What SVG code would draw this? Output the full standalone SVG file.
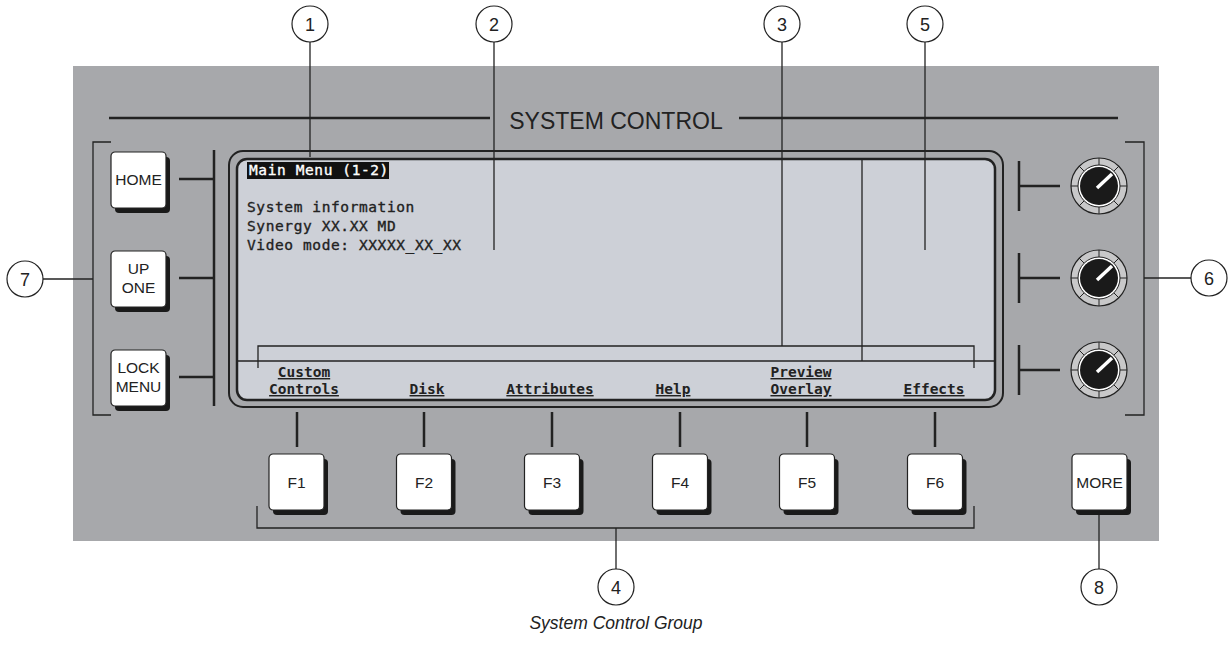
<svg xmlns="http://www.w3.org/2000/svg" width="1228" height="648" viewBox="0 0 1228 648">
<style>
.ln{stroke:#222;stroke-width:1.3;fill:none}
.thk{stroke:#222;stroke-width:2.5;fill:none}
.co circle{fill:#fff;stroke:#222;stroke-width:1.2}
.co text{font-family:"Liberation Sans",Arial,sans-serif;font-size:18px;fill:#222;text-anchor:middle}
.kt{font-family:"Liberation Sans",Arial,sans-serif;font-size:15.5px;fill:#222;text-anchor:middle}
.lcd{font-family:"DejaVu Sans Mono","Liberation Mono",monospace;font-size:14.5px;fill:#222;stroke:#222;stroke-width:0.35;letter-spacing:0.6px}
.sk{font-family:"DejaVu Sans Mono","Liberation Mono",monospace;font-size:14.5px;font-weight:bold;fill:#222;text-anchor:middle;text-decoration:underline}
</style>
<defs>
<g id="key">
<rect x="4" y="5" width="55" height="56" rx="4" fill="#1a1a1a"/>
<rect x="0" y="0" width="55" height="56" rx="4" fill="#fff" stroke="#222" stroke-width="1.2"/>
</g>
<g id="knob">
<circle r="28" fill="#c8c8c9" stroke="#222" stroke-width="1.2"/>
<g stroke="#222" stroke-width="1">
<line x1="0" y1="-21" x2="0" y2="-28"/><line x1="0" y1="21" x2="0" y2="28"/>
<line x1="-21" y1="0" x2="-28" y2="0"/><line x1="21" y1="0" x2="28" y2="0"/>
<line x1="14.8" y1="-14.8" x2="19.8" y2="-19.8"/><line x1="-14.8" y1="-14.8" x2="-19.8" y2="-19.8"/>
<line x1="14.8" y1="14.8" x2="19.8" y2="19.8"/><line x1="-14.8" y1="14.8" x2="-19.8" y2="19.8"/>
</g>
<circle r="21" fill="#fff" stroke="#222" stroke-width="1"/>
<circle r="19" fill="#1a1a1a"/>
<line x1="-2" y1="2" x2="13" y2="-12" stroke="#fff" stroke-width="3.5"/>
</g>
</defs>
<rect width="1228" height="648" fill="#fff"/>
<rect id="panel" x="73" y="66" width="1086" height="475" fill="#a7a8ab"/>
<g id="title">
<line class="thk" x1="109" y1="118" x2="490" y2="118"/>
<line class="thk" x1="739" y1="118" x2="1118" y2="118"/>
<text x="616" y="129" font-family="'Liberation Sans',Arial,sans-serif" font-size="23" fill="#222" text-anchor="middle">SYSTEM CONTROL</text>
</g>
<g id="screen">
<rect x="229" y="151" width="774" height="256" rx="14" fill="#a7a8ab" stroke="#222" stroke-width="2"/>
<rect x="237" y="159" width="758" height="241" rx="10" fill="#cdd0d7" stroke="#222" stroke-width="2.5"/>
<line class="ln" x1="237" y1="361" x2="995" y2="361"/>
<rect x="247" y="162" width="142" height="17" fill="#111"/>
<text class="lcd" x="249" y="175" style="fill:#fff;stroke:#fff">Main Menu (1-2)</text>
<text class="lcd" x="247" y="212">System information</text>
<text class="lcd" x="247" y="231">Synergy XX.XX MD</text>
<text class="lcd" x="247" y="250">Video mode: XXXXX_XX_XX</text>
<text class="sk" x="304" y="377">Custom</text>
<text class="sk" x="304" y="394">Controls</text>
<text class="sk" x="427" y="394">Disk</text>
<text class="sk" x="550" y="394">Attributes</text>
<text class="sk" x="673" y="394">Help</text>
<text class="sk" x="801" y="377">Preview</text>
<text class="sk" x="801" y="394">Overlay</text>
<text class="sk" x="934" y="394">Effects</text>
</g>
<g id="connectors">
<line class="ln" x1="310" y1="42" x2="310" y2="157"/>
<line class="ln" x1="494" y1="42" x2="494" y2="250"/>
<line class="ln" x1="782" y1="42" x2="782" y2="346"/>
<line class="ln" x1="925" y1="42" x2="925" y2="250"/>
<line class="ln" x1="862" y1="160" x2="862" y2="361"/>
<path class="ln" d="M258,368 V346 H974 V368"/>
<path class="ln" d="M111,142 H93 V415 H111"/>
<line class="ln" x1="43" y1="279" x2="93" y2="279"/>
<line class="thk" x1="214" y1="150" x2="214" y2="406"/>
<line class="thk" x1="179" y1="179" x2="214" y2="179"/>
<line class="thk" x1="179" y1="278" x2="214" y2="278"/>
<line class="thk" x1="179" y1="377" x2="214" y2="377"/>
<path class="thk" d="M1019,161 V211 M1019,186 H1060"/>
<path class="thk" d="M1019,253 V303 M1019,278 H1060"/>
<path class="thk" d="M1019,345 V395 M1019,370 H1060"/>
<path class="ln" d="M1125,142 H1144 V415 H1125"/>
<line class="ln" x1="1144" y1="278" x2="1191" y2="278"/>
<path class="thk" d="M297,412 V447 M424,412 V447 M552,412 V447 M680,412 V447 M807,412 V447 M935,412 V447"/>
<path class="ln" d="M257,506 V528 H974 V506"/>
<line class="ln" x1="616" y1="528" x2="616" y2="569"/>
<line class="ln" x1="1099" y1="515" x2="1099" y2="569"/>
</g>
<g id="key-home"><use href="#key" x="111" y="152"/><text class="kt" x="138.5" y="185">HOME</text></g>
<g id="key-upone"><use href="#key" x="111" y="251"/><text class="kt" x="138.5" y="274">UP</text><text class="kt" x="138.5" y="293">ONE</text></g>
<g id="key-lockmenu"><use href="#key" x="111" y="350"/><text class="kt" x="138.5" y="373">LOCK</text><text class="kt" x="138.5" y="392">MENU</text></g>
<g id="key-f1"><use href="#key" x="269" y="454"/><text class="kt" x="296.5" y="488">F1</text></g>
<g id="key-f2"><use href="#key" x="396.5" y="454"/><text class="kt" x="424" y="488">F2</text></g>
<g id="key-f3"><use href="#key" x="524.5" y="454"/><text class="kt" x="552" y="488">F3</text></g>
<g id="key-f4"><use href="#key" x="652.5" y="454"/><text class="kt" x="680" y="488">F4</text></g>
<g id="key-f5"><use href="#key" x="779.5" y="454"/><text class="kt" x="807" y="488">F5</text></g>
<g id="key-f6"><use href="#key" x="907.5" y="454"/><text class="kt" x="935" y="488">F6</text></g>
<g id="key-more"><use href="#key" x="1072" y="454"/><text class="kt" x="1099.5" y="488">MORE</text></g>
<g id="knob-1"><use href="#knob" x="1099" y="186"/></g>
<g id="knob-2"><use href="#knob" x="1099" y="278"/></g>
<g id="knob-3"><use href="#knob" x="1099" y="370"/></g>
<g id="callout-1" class="co"><circle cx="310" cy="24" r="18"/><text x="310" y="30.5">1</text></g>
<g id="callout-2" class="co"><circle cx="494" cy="24" r="18"/><text x="494" y="30.5">2</text></g>
<g id="callout-3" class="co"><circle cx="782" cy="24" r="18"/><text x="782" y="30.5">3</text></g>
<g id="callout-5" class="co"><circle cx="925" cy="24" r="18"/><text x="925" y="30.5">5</text></g>
<g id="callout-7" class="co"><circle cx="25" cy="279" r="18"/><text x="25" y="285.5">7</text></g>
<g id="callout-6" class="co"><circle cx="1209" cy="278" r="18"/><text x="1209" y="284.5">6</text></g>
<g id="callout-4" class="co"><circle cx="616" cy="587" r="18"/><text x="616" y="593.5">4</text></g>
<g id="callout-8" class="co"><circle cx="1099" cy="587" r="18"/><text x="1099" y="593.5">8</text></g>
<text id="caption" x="616" y="629" font-family="'Liberation Sans',Arial,sans-serif" font-size="17.5" font-style="italic" fill="#222" text-anchor="middle">System Control Group</text>
</svg>
